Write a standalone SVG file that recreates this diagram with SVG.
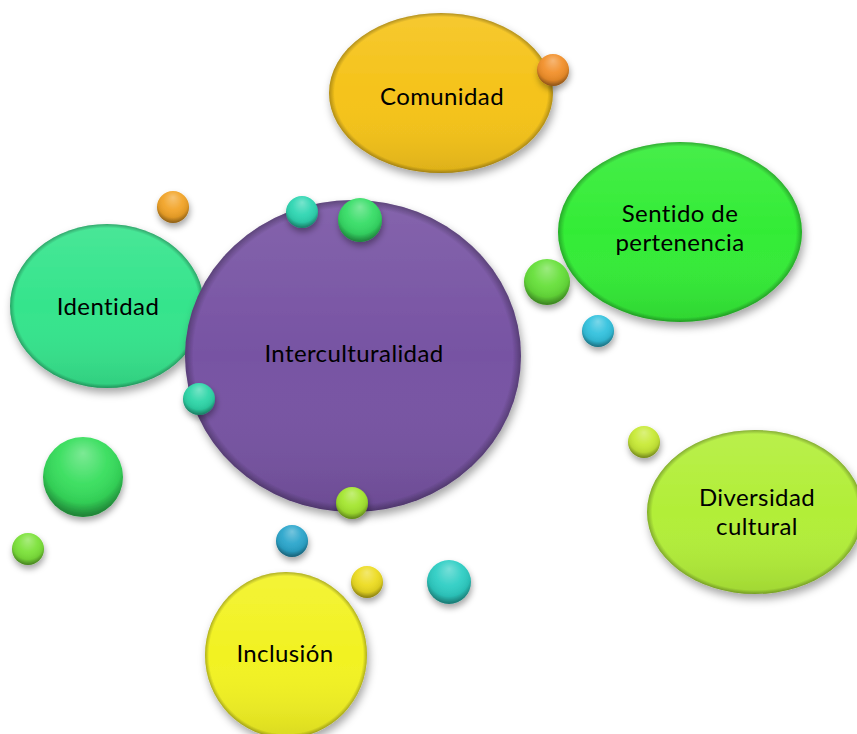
<svg xmlns="http://www.w3.org/2000/svg" width="857" height="734" viewBox="0 0 857 734">
<defs>
  <filter id="sh" x="-20%" y="-20%" width="140%" height="150%">
    <feDropShadow dx="2" dy="5" stdDeviation="4" flood-color="#000" flood-opacity="0.35"/>
  </filter>
  <filter id="shs" x="-40%" y="-40%" width="180%" height="200%">
    <feDropShadow dx="1" dy="4" stdDeviation="3" flood-color="#000" flood-opacity="0.35"/>
  </filter>
  <linearGradient id="shade" x1="0" y1="0" x2="0" y2="1">
    <stop offset="0" stop-color="#fff" stop-opacity="0.1"/>
    <stop offset="0.5" stop-color="#fff" stop-opacity="0"/>
    <stop offset="1" stop-color="#000" stop-opacity="0.1"/>
  </linearGradient>
  <radialGradient id="rim" cx="0.5" cy="0.5" r="0.5">
    <stop offset="0.95" stop-color="#000" stop-opacity="0"/>
    <stop offset="1" stop-color="#000" stop-opacity="0.28"/>
  </radialGradient>
  <radialGradient id="ball" cx="0.5" cy="0.38" r="0.6" fx="0.5" fy="0.2">
    <stop offset="0" stop-color="#fff" stop-opacity="0.35"/>
    <stop offset="0.5" stop-color="#fff" stop-opacity="0.05"/>
    <stop offset="0.8" stop-color="#000" stop-opacity="0.08"/>
    <stop offset="1" stop-color="#000" stop-opacity="0.4"/>
  </radialGradient>
  <style>
    .lbl{font-family:Lato,"Open Sans",sans-serif;font-size:24px;letter-spacing:0.4px;fill:#000;text-anchor:middle}
    .ov{fill:url(#shade)}
    .rm{fill:url(#rim)}
    .bl{fill:url(#ball)}
  </style>
</defs>

<g id="connectors"></g>

<g id="node-comunidad" filter="url(#sh)">
  <ellipse cx="441" cy="93" rx="112" ry="80" fill="#F5C31A"/>
  <ellipse cx="441" cy="93" rx="112" ry="80" class="ov"/>
  <ellipse cx="441" cy="93" rx="112" ry="80" class="rm"/>
</g>
<g id="node-identidad" filter="url(#sh)">
  <ellipse cx="107" cy="306" rx="97" ry="82" fill="#35E48C"/>
  <ellipse cx="107" cy="306" rx="97" ry="82" class="ov"/>
  <ellipse cx="107" cy="306" rx="97" ry="82" class="rm"/>
</g>
<g id="node-interculturalidad" filter="url(#sh)">
  <ellipse cx="353" cy="356" rx="168" ry="156" fill="#7753A3"/>
  <ellipse cx="353" cy="356" rx="168" ry="156" class="ov"/>
  <ellipse cx="353" cy="356" rx="168" ry="156" class="rm"/>
</g>
<g id="node-sentido" filter="url(#sh)">
  <ellipse cx="680" cy="232" rx="122" ry="90" fill="#33EC36"/>
  <ellipse cx="680" cy="232" rx="122" ry="90" class="ov"/>
  <ellipse cx="680" cy="232" rx="122" ry="90" class="rm"/>
</g>
<g id="node-diversidad" filter="url(#sh)">
  <ellipse cx="755" cy="512" rx="108" ry="82" fill="#B2EE38"/>
  <ellipse cx="755" cy="512" rx="108" ry="82" class="ov"/>
  <ellipse cx="755" cy="512" rx="108" ry="82" class="rm"/>
</g>
<g id="node-inclusion" filter="url(#sh)">
  <ellipse cx="286" cy="655" rx="81" ry="83" fill="#F2F222"/>
  <ellipse cx="286" cy="655" rx="81" ry="83" class="ov"/>
  <ellipse cx="286" cy="655" rx="81" ry="83" class="rm"/>
</g>

<g id="balls">
  <g filter="url(#shs)"><circle cx="553" cy="70" r="16" fill="#F2902A"/><circle cx="553" cy="70" r="16" class="bl"/></g>
  <g filter="url(#shs)"><circle cx="173" cy="207" r="16" fill="#F2A428"/><circle cx="173" cy="207" r="16" class="bl"/></g>
  <g filter="url(#shs)"><circle cx="302" cy="212" r="16" fill="#2ED6B2"/><circle cx="302" cy="212" r="16" class="bl"/></g>
  <g filter="url(#shs)"><circle cx="360" cy="220" r="22" fill="#36DD66"/><circle cx="360" cy="220" r="22" class="bl"/></g>
  <g filter="url(#shs)"><circle cx="199" cy="399" r="16" fill="#2ED6A8"/><circle cx="199" cy="399" r="16" class="bl"/></g>
  <g filter="url(#shs)"><circle cx="352" cy="503" r="16" fill="#A4E630"/><circle cx="352" cy="503" r="16" class="bl"/></g>
  <g filter="url(#shs)"><circle cx="547" cy="282" r="23" fill="#66E03A"/><circle cx="547" cy="282" r="23" class="bl"/></g>
  <g filter="url(#shs)"><circle cx="598" cy="331" r="16" fill="#33C2DE"/><circle cx="598" cy="331" r="16" class="bl"/></g>
  <g filter="url(#shs)"><circle cx="644" cy="442" r="16" fill="#C8EA36"/><circle cx="644" cy="442" r="16" class="bl"/></g>
  <g filter="url(#shs)"><circle cx="83" cy="477" r="40" fill="#36DE5C"/><circle cx="83" cy="477" r="40" class="bl"/></g>
  <g filter="url(#shs)"><circle cx="28" cy="549" r="16" fill="#7CE23A"/><circle cx="28" cy="549" r="16" class="bl"/></g>
  <g filter="url(#shs)"><circle cx="292" cy="541" r="16" fill="#2BA6CC"/><circle cx="292" cy="541" r="16" class="bl"/></g>
  <g filter="url(#shs)"><circle cx="367" cy="582" r="16" fill="#EDDC22"/><circle cx="367" cy="582" r="16" class="bl"/></g>
  <g filter="url(#shs)"><circle cx="449" cy="582" r="22" fill="#2ECEC4"/><circle cx="449" cy="582" r="22" class="bl"/></g>
</g>

<g id="labels">
  <text class="lbl" x="442" y="105">Comunidad</text>
  <text class="lbl" x="108" y="315">Identidad</text>
  <text class="lbl" x="354" y="362">Interculturalidad</text>
  <text class="lbl" x="680" y="222">Sentido de<tspan x="680" dy="29">pertenencia</tspan></text>
  <text class="lbl" x="757" y="506">Diversidad<tspan x="757" dy="29">cultural</tspan></text>
  <text class="lbl" x="285" y="662">Inclusión</text>
</g>
</svg>
